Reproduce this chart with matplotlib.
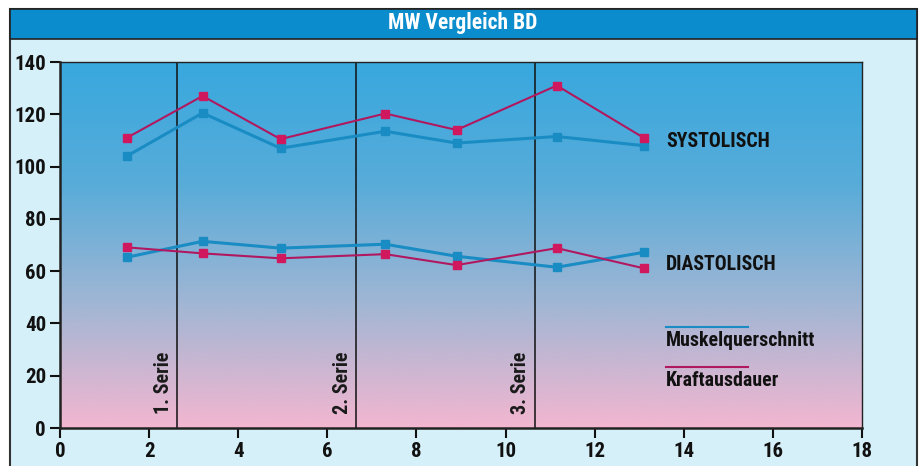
import numpy as np
import matplotlib.pyplot as plt
from matplotlib.colors import LinearSegmentedColormap
from matplotlib.patches import Rectangle
from matplotlib import font_manager

# schmale, fette Schrift suchen
fl = font_manager.fontManager.ttflist
names = {f.name for f in fl}
fam = ["DejaVu Sans"]
for n in ["Liberation Sans Narrow", "Roboto Condensed", "Open Sans Condensed", "Noto Sans Condensed"]:
    if n in names:
        fam = [n, "DejaVu Sans"]
        break
else:
    cond = [f.name for f in fl if f.stretch in ("condensed", "semi-condensed", 87.5, 75)]
    if cond:
        fam = [cond[0], "DejaVu Sans"]
plt.rcParams["font.family"] = fam
plt.rcParams["font.stretch"] = "condensed"
plt.rcParams["font.weight"] = "bold"

# Messpunkte
x = [1.5, 3.2, 4.95, 7.3, 8.9, 11.15, 13.1]
sys_muskel = [104, 120.5, 107, 113.5, 109, 111.5, 108]
sys_kraft = [111, 127, 110.5, 120.3, 114, 131, 111]
dia_muskel = [65.3, 71.4, 68.8, 70.3, 65.7, 61.5, 67.2]
dia_kraft = [69.1, 66.8, 64.9, 66.5, 62.3, 68.8, 61.1]
serien = [2.63, 6.65, 10.65]
serien_labels = ["1. Serie", "2. Serie", "3. Serie"]

blau = "#1a8cc4"
rot = "#b01860"
rot_marker = "#d0185e"

fig = plt.figure(figsize=(9.2, 4.66), dpi=100)
fig.patch.set_facecolor("white")

# Rahmen und Titelleiste
W, H = 920, 466
fig.patches.append(Rectangle((10 / W, -0.01), 907 / W, (H - 9) / H + 0.01, transform=fig.transFigure,
                             fc="#d6f0f9", ec="#333333", lw=1.5, zorder=-2))
fig.patches.append(Rectangle((10 / W, (H - 39) / H), 907 / W, 30 / H, transform=fig.transFigure,
                             fc="#0b8ccc", ec="#222222", lw=1.2, zorder=-1))
fig.text(463 / W, (H - 23) / H, "MW Vergleich BD", color="white", fontsize=15.5,
         ha="center", va="center", fontweight="bold")

ax = fig.add_axes([60 / W, 1 - 428 / H, 802 / W, 366 / H])
ax.set_zorder(1)
ax.set_xlim(0, 18)
ax.set_ylim(0, 140)

cmap = LinearSegmentedColormap.from_list("bg", ["#38a8de", "#58acd9", "#a2b6d4", "#f3b6d0"])
grad = np.linspace(0, 1, 256).reshape(-1, 1)
ax.imshow(grad, cmap=cmap, extent=[0, 18, 0, 140], aspect="auto", zorder=0, origin="upper")

for s, lab in zip(serien, serien_labels):
    ax.axvline(s, color="#111111", lw=1.1, zorder=1)
    ax.text(s - 0.1, 5.5, lab, rotation=90, ha="right", va="bottom", fontsize=14.5,
            color="#1a1a1a", fontweight="bold")

ax.plot(x, sys_muskel, color=blau, lw=2.2, marker="s", ms=6, mfc=blau, mec=blau, zorder=3)
ax.plot(x, dia_muskel, color=blau, lw=2.2, marker="s", ms=6, mfc=blau, mec=blau, zorder=3)
ax.plot(x, sys_kraft, color=rot, lw=1.5, marker="s", ms=6, mfc=rot_marker, mec=rot_marker, zorder=4)
ax.plot(x, dia_kraft, color=rot, lw=1.5, marker="s", ms=6, mfc=rot_marker, mec=rot_marker, zorder=4)

ax.text(13.6, 109.5, "SYSTOLISCH", fontsize=14.2, color="#111111", va="center", fontweight="bold")
ax.text(13.6, 62.5, "DIASTOLISCH", fontsize=14.2, color="#111111", va="center", fontweight="bold")

# Legende
ax.plot([13.6, 15.45], [38.5, 38.5], color=blau, lw=1.5, zorder=3)
ax.text(13.6, 33.3, "Muskelquerschnitt", fontsize=14.3, color="#111111", va="center", fontweight="bold")
ax.plot([13.6, 15.45], [23.5, 23.5], color=rot, lw=1.5, zorder=3)
ax.text(13.6, 18.3, "Kraftausdauer", fontsize=14.3, color="#111111", va="center", fontweight="bold")

ax.set_xticks(range(0, 19, 2))
ax.set_yticks(range(0, 141, 20))
ax.tick_params(direction="out", length=7, width=1.5, labelsize=15, colors="#111111", pad=3)
for t in ax.get_xticklabels() + ax.get_yticklabels():
    t.set_fontweight("bold")
for sp in ax.spines.values():
    sp.set_color("#222222")
    sp.set_linewidth(1.0)
ax.spines["left"].set_linewidth(1.8)
ax.spines["bottom"].set_linewidth(1.8)

fig.savefig("out.png", dpi=100, facecolor=fig.get_facecolor())
